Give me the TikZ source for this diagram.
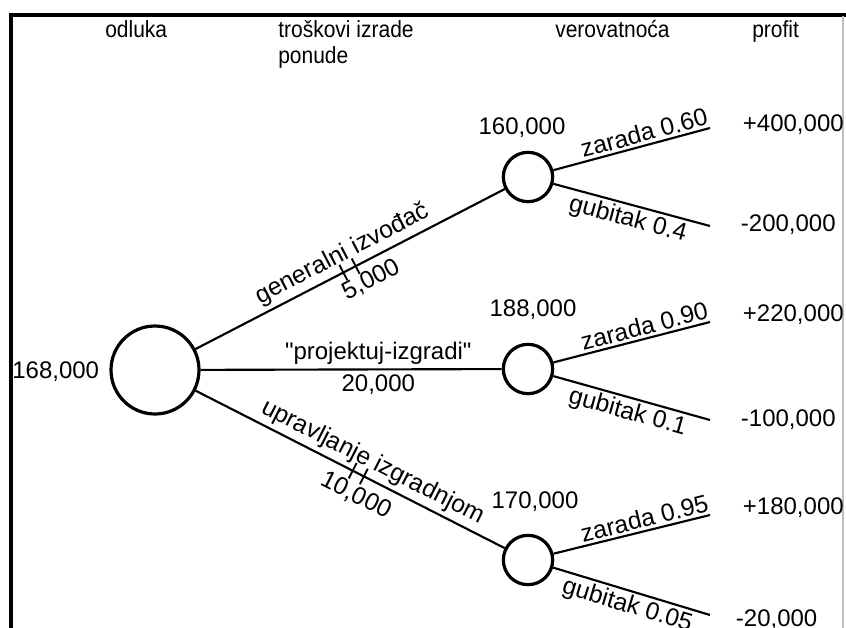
\documentclass[tikz,border=0pt]{standalone}
\usepackage{fontspec}
\setmainfont{Liberation Sans}[Ligatures=TeXOff]
\usetikzlibrary{calc}
\begin{document}
\begin{tikzpicture}[x=0.75pt,y=-0.75pt,
  lbl/.style={font=\fontsize{18}{21}\selectfont, inner sep=2pt},
  slopelbl/.style={font=\fontsize{18.5}{21}\selectfont, inner sep=2pt},
  head/.style={font=\fontsize{17.5}{20}\selectfont, inner sep=0pt, anchor=base west},
  decision/.style={circle, draw, line width=2.4pt, minimum size=66pt, inner sep=0pt},
  chance/.style={circle, draw, line width=2.4pt, minimum size=37pt, inner sep=0pt},
  branch/.style={line width=1.6pt},
  framebar/.style={line width=3pt},
  cutmark/.style={line width=1.4pt}]
\useasboundingbox (0,0) rectangle (846,628);

% frame
\draw[framebar] (10.5,628) -- (10.5,14.5) -- (846,14.5);
\draw[black!25, line width=1pt] (843,16) -- (843,628);

% column headings
\node[head] (h1) at (105,37) {\scalebox{0.9}[1]{odluka}};
\node[head] (h2) at (278,37) {\scalebox{0.9}[1]{troškovi izrade}};
\node[head] (h2b) at (278,63) {\scalebox{0.9}[1]{ponude}};
\node[head] (h3) at (555,37) {\scalebox{0.9}[1]{verovatnoća}};
\node[head] (h4) at (752,37) {\scalebox{0.9}[1]{profit}};

% decision and chance nodes
\node[decision] (m) at (155,370) {};
\node[chance] (c1) at (528,177) {};
\node[chance] (c2) at (528,369) {};
\node[chance] (c3) at (528,560) {};

% expected values
\node[lbl, anchor=east] (vm) at (102,372) {168,000};
\node[lbl] (v1) at (522,128) {160,000};
\node[lbl] (v2) at (533,310) {188,000};
\node[lbl] (v3) at (535,502) {170,000};

% outcome ends
\coordinate (e1u) at (710,128);
\coordinate (e1d) at (710,226);
\coordinate (e2u) at (710,322);
\coordinate (e2d) at (710,420);
\coordinate (e3u) at (710,515);
\coordinate (e3d) at (710,615);

% decision branches
\draw[branch] (m) -- (c1)
  node[pos=0.5, above=1pt, sloped, slopelbl] {generalni izvođač}
  node[pos=0.54, below=4pt, sloped, slopelbl] {5,000};
\draw[branch] (m) -- (c2)
  node[pos=0.59, above=1pt, lbl] {"projektuj-izgradi"}
  node[pos=0.59, below=1pt, lbl] {20,000};
\draw[branch] (m) -- (c3)
  node[pos=0.55, above=1pt, sloped, slopelbl] {upravljanje izgradnjom}
  node[pos=0.55, below=5pt, sloped, slopelbl] {10,000};

% cut marks on rejected alternatives
\coordinate (k1) at ($(m)!0.505!(c1)$);
\coordinate (k2) at ($(m)!0.538!(c1)$);
\coordinate (k3) at ($(m)!0.53!(c3)$);
\coordinate (k4) at ($(m)!0.56!(c3)$);
\foreach \k/\t in {k1/c1,k2/c1,k3/c3,k4/c3}
  \draw[cutmark] ($(\k)!6.5pt!90:(\t)$) -- ($(\k)!6.5pt!-90:(\t)$);

% outcome branches
\draw[branch] (c1) -- (e1u) node[pos=0.6, above, sloped, slopelbl] {zarada 0.60};
\draw[branch] (c1) -- (e1d) node[pos=0.5, below, sloped, slopelbl] {gubitak 0.4};
\draw[branch] (c2) -- (e2u) node[pos=0.6, above, sloped, slopelbl] {zarada 0.90};
\draw[branch] (c2) -- (e2d) node[pos=0.5, below, sloped, slopelbl] {gubitak 0.1};
\draw[branch] (c3) -- (e3u) node[pos=0.6, above, sloped, slopelbl] {zarada 0.95};
\draw[branch] (c3) -- (e3d) node[pos=0.5, below, sloped, slopelbl] {gubitak 0.05};

% profits
\node[lbl, anchor=west] (p1) at (740,125) {+400,000};
\node[lbl, anchor=west] (p2) at (738,225) {-200,000};
\node[lbl, anchor=west] (p3) at (740,315) {+220,000};
\node[lbl, anchor=west] (p4) at (738,420) {-100,000};
\node[lbl, anchor=west] (p5) at (740,508) {+180,000};
\node[lbl, anchor=west] (p6) at (733,620) {-20,000};
\end{tikzpicture}
\end{document}
